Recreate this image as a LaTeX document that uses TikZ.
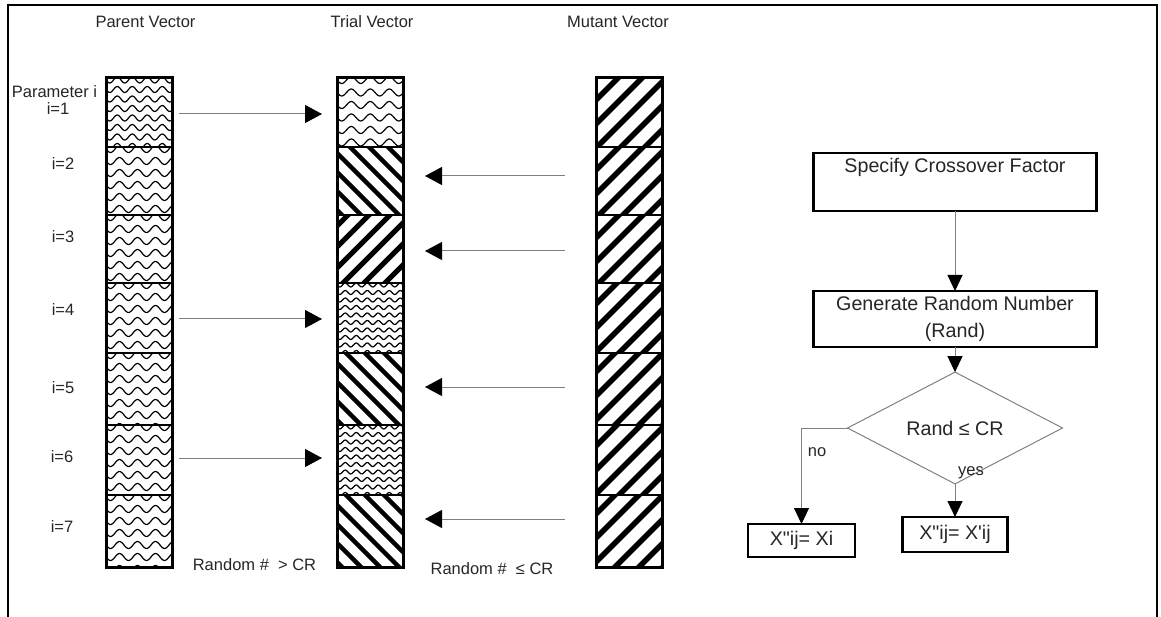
\documentclass[tikz,border=0pt]{standalone}
\usepackage{fontspec}
\setmainfont{Liberation Sans}
\usetikzlibrary{arrows.meta,shapes.geometric,calc}

\newcommand\wavefill[7]{%
 \begin{scope}
 \clip (#1,#2) rectangle (#3,#4);
 \pgfmathtruncatemacro\nrows{(#4-#2)/#7+1}
 \foreach \k in {0,...,\nrows}{
   \pgfmathsetmacro\yy{#2+2+\k*#7}
   \draw[wavepen] plot[variable=\t, domain=#1-2:#3+2, samples=60, smooth] (\t,{\yy+#6*sin((\t-#1)/#5*360)});
 }
 \end{scope}}

\newcommand\hatchfill[7]{%
 \begin{scope}
 \clip (#1,#2) rectangle (#3,#4);
 \pgfmathsetmacro\hgt{#4-#2}
 \pgfmathtruncatemacro\nn{(#3-#1+2*\hgt)/#6+1}
 \foreach \k in {0,...,\nn}{
   \pgfmathsetmacro\aa{#1-\hgt+\k*#6}
   \draw[line width=#7] (\aa,#2-5) -- ++({#5*(\hgt+10)},\hgt+10);
 }
 \end{scope}}

\tikzset{
 cellbox/.style={draw, line width=2pt, minimum width=66pt, inner sep=0pt, outer sep=0pt},
 vecframe/.style={draw, line width=3pt},
 conn/.style={draw=gray, line width=1pt, -{Triangle[length=17pt,width=18pt,color=black]}},
 fconn/.style={draw=gray, line width=1pt, -{Triangle[length=16pt,width=15pt,color=black]}},
 lab/.style={font=\fontsize{16.5}{19}\selectfont, text=black!85, inner sep=0pt},
 flab/.style={font=\fontsize{19.7}{27}\selectfont, text=black!85, inner sep=0pt, align=center},
 fbox/.style={draw, line width=2.5pt, inner sep=0pt, outer sep=0pt, flab},
 wavepen/.style={line width=1.2pt},
}

\begin{document}
\begin{tikzpicture}[x=1pt,y=-1pt]
\useasboundingbox (0,0) rectangle (1161,617);
% frame
\draw[line width=2pt] (8,617) -- (8,5) -- (1157,5) -- (1157,617);

% patterns: parent
\wavefill{106}{78}{172}{147}{15}{3}{9.5}
\foreach \ya/\yb in {147/215,215/283,283/353,353/425,425/495,495/567}{
  \wavefill{106}{\ya}{172}{\yb}{18}{3.5}{12}
}
% patterns: trial
\wavefill{337}{78}{403}{147}{19}{3.5}{12.5}
\hatchfill{337}{147}{403}{215}{1}{19}{4.5}
\hatchfill{337}{215}{403}{283}{-1}{21}{5}
\wavefill{337}{283}{403}{353}{11}{2}{7.5}
\hatchfill{337}{353}{403}{425}{1}{19}{4.5}
\wavefill{337}{425}{403}{495}{11}{2}{7.5}
\hatchfill{337}{495}{403}{567}{1}{19}{4.5}
% patterns: mutant
\foreach \ya/\yb in {78/147,147/215,215/283,283/353,353/425,425/495,495/567}{
  \hatchfill{596}{\ya}{662}{\yb}{-1}{24}{5.5}
}

% cells
\foreach \i/\yc/\ch in {1/112.5/69, 2/181/68, 3/249/68, 4/318/70, 5/389/72, 6/460/70, 7/531/72}{
  \node[cellbox, minimum height=\ch] (p\i) at (139,\yc) {};
  \node[cellbox, minimum height=\ch] (t\i) at (370,\yc) {};
  \node[cellbox, minimum height=\ch] (m\i) at (629,\yc) {};
}
\draw[vecframe] (p1.north west) rectangle (p7.south east);
\draw[vecframe] (t1.north west) rectangle (t7.south east);
\draw[vecframe] (m1.north west) rectangle (m7.south east);

% titles
\node[lab] (tp) at (145.5,22) {Parent Vector};
\node[lab] (tt) at (372,22) {Trial Vector};
\node[lab] (tm) at (618,22) {Mutant Vector};
\node[lab] (par) at (54.5,92) {Parameter i};
\node[lab] (l1) at (58,109) {i=1};
\node[lab] (l2) at (63,164) {i=2};
\node[lab] (l3) at (63,237) {i=3};
\node[lab] (l4) at (63,310) {i=4};
\node[lab] (l5) at (63,388) {i=5};
\node[lab] (l6) at (62,457) {i=6};
\node[lab] (l7) at (62,527) {i=7};
\node[lab] (rgt) at (254.5,565) {Random \#\ \ > CR};
\node[lab] (rle) at (492,569) {Random \#\ \ ≤ CR};

% arrows parent -> trial
\draw[conn, shorten <=7pt, shorten >=15pt] ([yshift=-1.5pt]p1.east) -- ([yshift=-1.5pt]t1.west);
\draw[conn, shorten <=7pt, shorten >=15pt] ([yshift=-1pt]p4.east) -- ([yshift=-1pt]t4.west);
\draw[conn, shorten <=7pt, shorten >=15pt] ([yshift=2pt]p6.east) -- ([yshift=2pt]t6.west);
% arrows mutant -> trial
\draw[conn, shorten <=31pt, shorten >=22pt] ([yshift=5pt]m2.west) -- ([yshift=5pt]t2.east);
\draw[conn, shorten <=31pt, shorten >=22pt] ([yshift=-2pt]m3.west) -- ([yshift=-2pt]t3.east);
\draw[conn, shorten <=31pt, shorten >=22pt] ([yshift=2pt]m5.west) -- ([yshift=2pt]t5.east);
\draw[conn, shorten <=31pt, shorten >=22pt] ([yshift=12pt]m7.west) -- ([yshift=12pt]t7.east);

% flowchart
\node[fbox, minimum width=283pt, minimum height=58pt] (b1) at (955,182) {};
\node[flab] (b1t) at (955,167) {Specify Crossover Factor};
\node[fbox, minimum width=283pt, minimum height=56pt] (b2) at (955,319) {Generate Random Number\\(Rand)};
\node[diamond, draw=gray, line width=1pt, minimum width=215pt, minimum height=59pt, inner sep=0pt, outer sep=0pt, flab] (d) at (955,428) {Rand ≤ CR};
\node[fbox, minimum width=107pt, minimum height=33pt] (bn) at (801.5,540.5) {X\textquotedbl ij= Xi};
\node[fbox, minimum width=105pt, minimum height=35pt] (by) at (955,534.5) {X\textquotedbl ij= X\textquotesingle ij};
\draw[fconn] (b1) -- (b2);
\draw[fconn] (b2) -- (d);
\draw[fconn] (d.west) -| (bn.north);
\draw[fconn] (d.south) -- (by.north);
\node[lab] (no) at (817,452) {no};
\node[lab] (yes) at (971,473) {yes};
\end{tikzpicture}
\end{document}
